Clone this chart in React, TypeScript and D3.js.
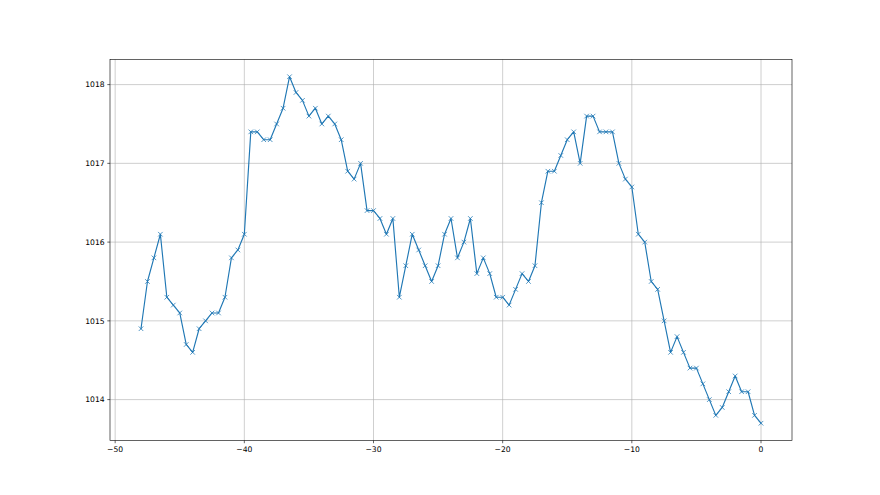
import React from "react";
import * as d3 from "d3";

const xValues: number[] = d3.range(97).map((i) => -48 + i * 0.5);
const yValues: number[] = [
  1014.9, 1015.5, 1015.8, 1016.1, 1015.3, 1015.2, 1015.1, 1014.7, 1014.6, 1014.9,
  1015.0, 1015.1, 1015.1, 1015.3, 1015.8, 1015.9, 1016.1, 1017.4, 1017.4, 1017.3,
  1017.3, 1017.5, 1017.7, 1018.1, 1017.9, 1017.8, 1017.6, 1017.7, 1017.5, 1017.6,
  1017.5, 1017.3, 1016.9, 1016.8, 1017.0, 1016.4, 1016.4, 1016.3, 1016.1, 1016.3,
  1015.3, 1015.7, 1016.1, 1015.9, 1015.7, 1015.5, 1015.7, 1016.1, 1016.3, 1015.8,
  1016.0, 1016.3, 1015.6, 1015.8, 1015.6, 1015.3, 1015.3, 1015.2, 1015.4, 1015.6,
  1015.5, 1015.7, 1016.5, 1016.9, 1016.9, 1017.1, 1017.3, 1017.4, 1017.0, 1017.6,
  1017.6, 1017.4, 1017.4, 1017.4, 1017.0, 1016.8, 1016.7, 1016.1, 1016.0, 1015.5,
  1015.4, 1015.0, 1014.6, 1014.8, 1014.6, 1014.4, 1014.4, 1014.2, 1014.0, 1013.8,
  1013.9, 1014.1, 1014.3, 1014.1, 1014.1, 1013.8, 1013.7,
];
const xTicks: number[] = [-50, -40, -30, -20, -10, 0];
const yTicks: number[] = [1014, 1015, 1016, 1017, 1018];

const W = 880;
const H = 495;
const pt = 55 / 72;
const left = 0.125 * W;
const right = 0.9 * W;
const top = H - 0.88 * H;
const bottom = H - 0.11 * H;

export default function App() {
  const xMin = d3.min(xValues)!;
  const xMax = d3.max(xValues)!;
  const yMin = d3.min(yValues)!;
  const yMax = d3.max(yValues)!;
  const xm = (xMax - xMin) * 0.05;
  const ym = (yMax - yMin) * 0.05;
  const x = d3.scaleLinear().domain([xMin - xm, xMax + xm]).range([left, right]);
  const y = d3.scaleLinear().domain([yMin - ym, yMax + ym]).range([bottom, top]);
  const line = d3
    .line<number>()
    .x((_, i) => x(xValues[i]))
    .y((d) => y(d));
  const fmt = (v: number) => (v < 0 ? "\u2212" + Math.abs(v) : String(v));
  const fs = 10 * pt;
  const tl = 3.5 * pt;
  const pad = 3.5 * pt;
  const ms = (6 * pt) / 2;
  return (
    <svg
      width={W}
      height={H}
      style={{ position: "absolute", left: 0, top: 0, background: "#fff" }}
      fontFamily="DejaVu Sans"
    >
      <rect x={0} y={0} width={W} height={H} fill="#fff" />
      <g stroke="#b0b0b0" strokeWidth={0.8 * pt}>
        {xTicks.map((t) => (
          <line key={"gx" + t} x1={x(t)} x2={x(t)} y1={top} y2={bottom} />
        ))}
        {yTicks.map((t) => (
          <line key={"gy" + t} x1={left} x2={right} y1={y(t)} y2={y(t)} />
        ))}
      </g>
      <path d={line(yValues) || ""} fill="none" stroke="#1f77b4" strokeWidth={1.5 * pt} strokeLinejoin="round" strokeLinecap="square" />
      <g stroke="#1f77b4" strokeWidth={1 * pt}>
        {yValues.map((v, i) => {
          const cx = x(xValues[i]);
          const cy = y(v);
          return (
            <g key={"m" + i}>
              <line x1={cx - ms} y1={cy - ms} x2={cx + ms} y2={cy + ms} />
              <line x1={cx - ms} y1={cy + ms} x2={cx + ms} y2={cy - ms} />
            </g>
          );
        })}
      </g>
      <rect x={left} y={top} width={right - left} height={bottom - top} fill="none" stroke="#000" strokeWidth={0.8 * pt} />
      <g stroke="#000" strokeWidth={0.8 * pt}>
        {xTicks.map((t) => (
          <line key={"tx" + t} x1={x(t)} x2={x(t)} y1={bottom} y2={bottom + tl} />
        ))}
        {yTicks.map((t) => (
          <line key={"ty" + t} x1={left - tl} x2={left} y1={y(t)} y2={y(t)} />
        ))}
      </g>
      <g fontSize={fs} fill="#000">
        {xTicks.map((t) => (
          <text key={"lx" + t} x={x(t)} y={bottom + tl + pad} dy="0.76em" textAnchor="middle">
            {fmt(t)}
          </text>
        ))}
        {yTicks.map((t) => (
          <text key={"ly" + t} x={left - tl - pad} y={y(t)} dy="0.35em" textAnchor="end">
            {fmt(t)}
          </text>
        ))}
      </g>
    </svg>
  );
}
